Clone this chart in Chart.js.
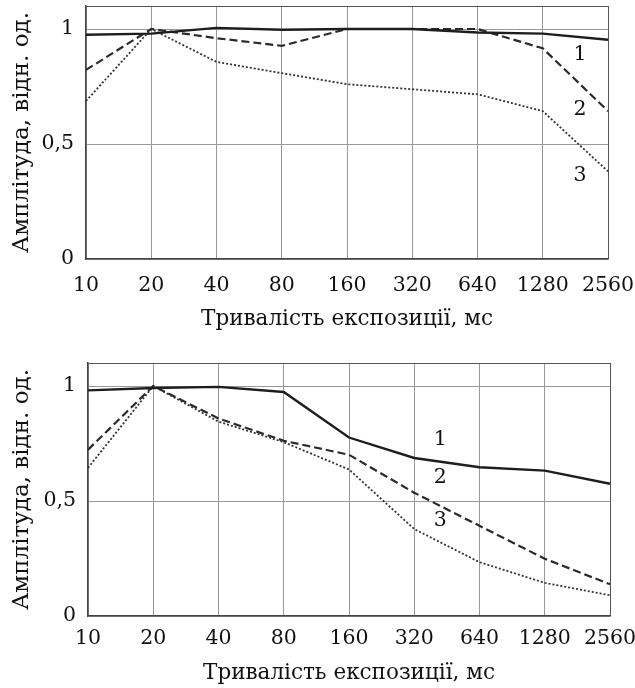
<!DOCTYPE html>
<html>
<head>
<meta charset="utf-8">
<script src="https://cdn.jsdelivr.net/npm/chart.js@4"></script>
<style>
  html, body { margin: 0; padding: 0; background: #fff; }
  .box { position: absolute; left: 0; width: 635px; }
  #top { top: 0; height: 335px; }
  #bottom { top: 340px; height: 348px; }
</style>
</head>
<body>
<div class="box" id="top"><canvas id="grafico1"></canvas></div>
<div class="box" id="bottom"><canvas id="grafico2"></canvas></div>
<script>
// тривалість експозиції, мс
const categorias = ['10', '20', '40', '80', '160', '320', '640', '1280', '2560'];
const yTicks = [0, 0.5, 1, 1.1];

// верхній графік
const top1 = [0.975, 0.98, 1.005, 0.997, 1.0, 1.0, 0.985, 0.98, 0.953];
const top2 = [0.822, 1.0, 0.96, 0.927, 1.0, 1.0, 1.0, 0.916, 0.643];
const top3 = [0.687, 1.0, 0.857, 0.808, 0.76, 0.738, 0.716, 0.643, 0.381];
// позиції підписів кривих: [індекс категорії, значення]
const topLabels = [[7.57, 0.887], [7.57, 0.651], [7.57, 0.362]];

// нижній графік
const bot1 = [0.981, 0.991, 0.996, 0.974, 0.776, 0.687, 0.647, 0.632, 0.575];
const bot2 = [0.723, 1.0, 0.859, 0.762, 0.701, 0.536, 0.392, 0.249, 0.138];
const bot3 = [0.644, 1.0, 0.845, 0.756, 0.637, 0.378, 0.234, 0.144, 0.09];
const botLabels = [[5.40, 0.767], [5.40, 0.603], [5.40, 0.414]];

const fonte = 'DejaVu Serif';

const curveLabels = {
    id: 'curveLabels',
    afterDatasetsDraw(chart, args, opts) {
        const { ctx, scales: { x, y } } = chart;
        ctx.save();
        ctx.font = '20.5px "' + fonte + '"';
        ctx.fillStyle = '#111';
        ctx.textAlign = 'center';
        ctx.textBaseline = 'middle';
        opts.items.forEach((p, i) => {
            ctx.fillText(String(i + 1), x.getPixelForValue(p[0]), y.getPixelForValue(p[1]));
        });
        ctx.restore();
    }
};

function criarGrafico(id, s1, s2, s3, labelsPos, cfg) {
    const ctx = document.getElementById(id).getContext('2d');
    return new Chart(ctx, {
        type: 'line',
        data: {
            labels: categorias,
            datasets: [
                { data: s1, borderColor: '#1e1e1e', borderWidth: 2.4 },
                { data: s2, borderColor: '#2a2a2a', borderWidth: 2.2, borderDash: [8, 4] },
                { data: s3, borderColor: '#333', borderWidth: 1.8, borderDash: [2, 2] }
            ]
        },
        options: {
            responsive: true,
            maintainAspectRatio: false,
            animation: false,
            events: [],
            elements: { point: { radius: 0 }, line: { tension: 0 } },
            layout: { padding: { top: cfg.padTop, right: cfg.padRight, left: 0, bottom: 0 } },
            plugins: {
                legend: { display: false },
                tooltip: { enabled: false },
                curveLabels: { items: labelsPos }
            },
            scales: {
                x: {
                    type: 'category',
                    offset: false,
                    grid: {
                        color: ctx => ctx.index === categorias.length - 1 ? '#555' : '#999',
                        lineWidth: 1,
                        drawTicks: false
                    },
                    border: { color: '#444', width: 1.5 },
                    ticks: {
                        color: '#111',
                        font: { family: fonte, size: 20.5 },
                        padding: cfg.tickPad,
                        maxRotation: 0,
                        autoSkip: false
                    },
                    title: {
                        display: true,
                        text: 'Тривалість експозиції, мс',
                        color: '#111',
                        font: { family: fonte, size: 21.5 },
                        padding: { top: 0, bottom: cfg.titleBottom }
                    },
                    afterFit: s => {
                        s.height = cfg.xHeight;
                        s.paddingLeft = 0;
                        s.paddingRight = 0;
                    }
                },
                y: {
                    min: 0,
                    max: 1.1,
                    afterBuildTicks: s => { s.ticks = yTicks.map(v => ({ value: v })); },
                    grid: {
                        color: ctx => ctx.tick && ctx.tick.value === 1.1 ? '#555' : '#999',
                        lineWidth: 1,
                        drawTicks: false
                    },
                    border: { color: '#444', width: 1.5 },
                    ticks: {
                        color: '#111',
                        font: { family: fonte, size: 20.5 },
                        padding: 12,
                        callback: v => v === 1.1 ? '' : String(v).replace('.', ',')
                    },
                    title: {
                        display: true,
                        text: 'Амплітуда, відн. од.',
                        color: '#111',
                        font: { family: fonte, size: 23 },
                        padding: { top: 8, bottom: 0 }
                    },
                    afterFit: s => {
                        s.width = cfg.yWidth;
                        s.paddingTop = 0;
                        s.paddingBottom = 0;
                    }
                }
            }
        },
        plugins: [curveLabels]
    });
}

document.addEventListener('DOMContentLoaded', () => {
    try {
        criarGrafico('grafico1', top1, top2, top3, topLabels,
            { padTop: 6, padRight: 27, yWidth: 86, xHeight: 76, tickPad: 14, titleBottom: 3 });
        criarGrafico('grafico2', bot1, bot2, bot3, botLabels,
            { padTop: 23, padRight: 25, yWidth: 88, xHeight: 72, tickPad: 10, titleBottom: 2 });
    } catch (err) {
        console.error('Erro ao desenhar o gráfico', err);
    }
});
</script>
</body>
</html>
